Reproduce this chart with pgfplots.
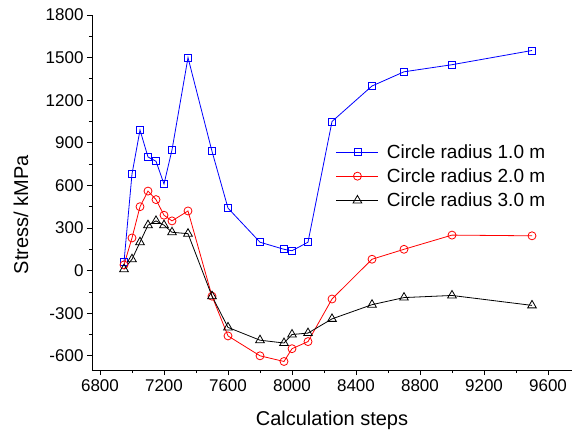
\documentclass[border=0pt]{standalone}
\usepackage{pgfplots}
\pgfplotsset{compat=1.18}
\usepackage{fontspec}
\setmainfont{Liberation Sans}
\begin{document}
\begin{tikzpicture}
\useasboundingbox (-92pt,-64pt) rectangle (485pt,370pt);
\begin{axis}[
  at={(0,0)}, anchor=south west,
  scale only axis, width=480pt, height=355pt,
  xmin=6750, xmax=9750, ymin=-700, ymax=1800,
  axis x line*=bottom, axis y line*=left,
  xtick={6800,7200,...,9600}, ytick={-600,-300,...,1800},
  minor x tick num=1, minor y tick num=1,
  tick align=outside, major tick length=5pt, minor tick length=3pt,
  tick style={black, line width=0.8pt},
  axis line style={line width=0.8pt},
  /pgf/number format/assume math mode=true,
  /pgf/number format/1000 sep={},
  ticklabel style={font=\fontsize{17}{20}\selectfont},
  xticklabel style={yshift=-1pt},
  xlabel={Calculation steps}, ylabel={Stress/ kMPa},
  label style={font=\fontsize{20}{24}\selectfont},
  xlabel style={at={(axis description cs:0.5,-0.157)}, anchor=base},
  ylabel style={at={(axis description cs:-0.133,0.437)}, anchor=base, rotate=0},
  legend style={at={(axis description cs:0.508,0.546)}, anchor=west, draw=none, fill=none,
    font=\fontsize{19}{22}\selectfont, row sep=5pt, inner sep=0pt},
  legend cell align=left,
  legend image code/.code={\draw[mark repeat=2,mark phase=2] plot coordinates {(0pt,0pt) (21pt,0pt) (42pt,0pt)};\path (48pt,0pt);},
  every axis plot/.append style={line width=0.8pt},
  clip=false,
]
\addplot[blue, mark=square, mark size=3.5pt, mark options={solid, fill=white}] coordinates {
(6950,60) (7000,680) (7050,990) (7100,800) (7150,770) (7200,610) (7250,850) (7350,1500)
(7500,840) (7600,440) (7800,200) (7950,150) (8000,140) (8100,200) (8250,1050) (8500,1300)
(8700,1400) (9000,1450) (9500,1550)};
\addlegendentry{Circle radius 1.0 m}
\addplot[red, mark=o, mark size=4pt, mark options={solid, fill=white}] coordinates {
(6950,40) (7000,230) (7050,450) (7100,560) (7150,500) (7200,390) (7250,350) (7350,420)
(7500,-180) (7600,-460) (7800,-600) (7950,-640) (8000,-550) (8100,-500) (8250,-200) (8500,80)
(8700,150) (9000,250) (9500,245)};
\addlegendentry{Circle radius 2.0 m}
\addplot[black, mark=triangle, mark size=5pt, mark options={solid, fill=white}] coordinates {
(6950,10) (7000,80) (7050,200) (7100,320) (7150,350) (7200,320) (7250,270) (7350,260)
(7500,-180) (7600,-400) (7800,-490) (7950,-510) (8000,-450) (8100,-440) (8250,-340) (8500,-240)
(8700,-190) (9000,-175) (9500,-245)};
\addlegendentry{Circle radius 3.0 m}
\end{axis}
\end{tikzpicture}
\end{document}
